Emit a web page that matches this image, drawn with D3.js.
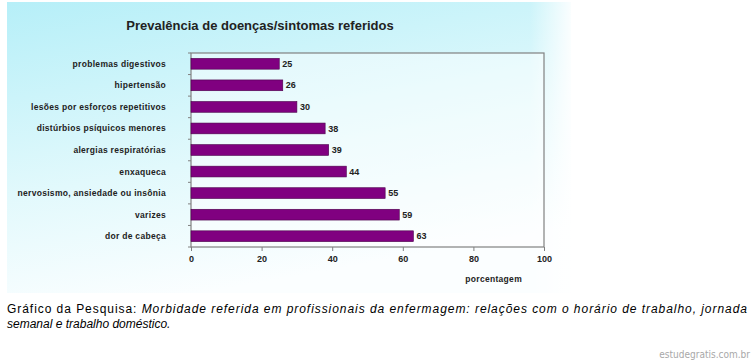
<!DOCTYPE html>
<html>
<head>
<meta charset="utf-8">
<script src="https://cdn.jsdelivr.net/npm/d3@7"></script>
<style>
  body { margin: 0; background: #fff; }
  svg { display: block; }
</style>
</head>
<body>
<svg id="chart" width="755" height="364"></svg>
<script>
const categories = [
  "problemas digestivos",
  "hipertensão",
  "lesões por esforços repetitivos",
  "distúrbios psíquicos menores",
  "alergias respiratórias",
  "enxaqueca",
  "nervosismo, ansiedade ou insônia",
  "varizes",
  "dor de cabeça"
];
const values = [25, 26, 30, 38, 39, 44, 55, 59, 63];
const xTicks = [0, 20, 40, 60, 80, 100];

const barColor = "#800080";
const margins = { top: 53, left: 191, right: 211, bottom: 117 };
const width = 755 - margins.left - margins.right;
const height = 364 - margins.top - margins.bottom;

const svg = d3.select("#chart");

// background gradient of the picture
const defs = svg.append("defs");
const grad = defs.append("linearGradient")
  .attr("id", "bg")
  .attr("x1", 0).attr("y1", 0).attr("x2", 0.35).attr("y2", 1);
grad.append("stop").attr("offset", 0).attr("stop-color", "#b6eff8");
grad.append("stop").attr("offset", 0.6).attr("stop-color", "#e2f9fc");
grad.append("stop").attr("offset", 1).attr("stop-color", "#fbfeff");

const gradR = defs.append("linearGradient")
  .attr("id", "fadeR")
  .attr("x1", 0).attr("y1", 0).attr("x2", 1).attr("y2", 0);
gradR.append("stop").attr("offset", 0).attr("stop-color", "#fff").attr("stop-opacity", 0);
gradR.append("stop").attr("offset", 1).attr("stop-color", "#fff").attr("stop-opacity", 0.9);

svg.append("rect")
  .attr("x", 7).attr("y", 2).attr("width", 564).attr("height", 291)
  .attr("fill", "url(#bg)");
svg.append("rect")
  .attr("x", 530).attr("y", 2).attr("width", 41).attr("height", 291)
  .attr("fill", "url(#fadeR)");

// title
svg.append("text")
  .attr("x", 260).attr("y", 30)
  .attr("text-anchor", "middle")
  .attr("font-family", "Liberation Sans, Arial, sans-serif")
  .attr("font-weight", "bold")
  .attr("font-size", 13)
  .attr("fill", "#222")
  .text("Prevalência de doenças/sintomas referidos");

const g = svg.append("g")
  .attr("transform", `translate(${margins.left},${margins.top})`);

const x = d3.scaleLinear().domain([0, 100]).range([0, width]);
const y = d3.scaleBand().domain(categories).range([0, height]).paddingInner(0.5).paddingOuter(0.25);

// plot area
g.append("rect")
  .attr("width", width).attr("height", height)
  .attr("fill", "#fff").attr("fill-opacity", 0.45)
  .attr("stroke", "#808080").attr("stroke-width", 1.2);

// bars
g.selectAll("rect.bar")
  .data(values)
  .join("rect")
  .attr("class", "bar")
  .attr("x", x(0))
  .attr("y", (d, i) => y(categories[i]))
  .attr("width", d => x(d) - x(0))
  .attr("height", y.bandwidth())
  .attr("fill", barColor)
  .attr("stroke", "#4a004a")
  .attr("stroke-width", 0.6);

// value labels
g.selectAll("text.val")
  .data(values)
  .join("text")
  .attr("class", "val")
  .attr("x", d => x(d) + 3)
  .attr("y", (d, i) => y(categories[i]) + y.bandwidth() / 2)
  .attr("dy", "0.35em")
  .attr("font-family", "Liberation Sans, Arial, sans-serif")
  .attr("font-weight", "bold")
  .attr("font-size", 9)
  .attr("fill", "#222")
  .text(d => d);

// y axis: labels and ticks between categories
const yAxis = g.append("g");
yAxis.selectAll("text")
  .data(categories)
  .join("text")
  .attr("x", -25)
  .attr("y", d => y(d) + y.bandwidth() / 2)
  .attr("dy", "0.35em")
  .attr("text-anchor", "end")
  .attr("font-family", "Liberation Sans, Arial, sans-serif")
  .attr("font-weight", "bold")
  .attr("font-size", 8.5)
  .attr("letter-spacing", 0.3)
  .attr("fill", "#222")
  .text(d => d);
yAxis.selectAll("line")
  .data(d3.range(categories.length + 1))
  .join("line")
  .attr("x1", -3).attr("x2", 0)
  .attr("y1", i => i * height / categories.length)
  .attr("y2", i => i * height / categories.length)
  .attr("stroke", "#808080");

// x axis
const xAxis = g.append("g")
  .attr("transform", `translate(0,${height})`)
  .call(d3.axisBottom(x).tickValues(xTicks).tickSize(4).tickPadding(5));
xAxis.select(".domain").remove();
xAxis.selectAll("line").attr("stroke", "#808080");
xAxis.selectAll("text")
  .attr("font-family", "Liberation Sans, Arial, sans-serif")
  .attr("font-weight", "bold")
  .attr("font-size", 9)
  .attr("fill", "#222");

g.append("text")
  .attr("x", width - 22).attr("y", height + 35)
  .attr("text-anchor", "end")
  .attr("font-family", "Liberation Sans, Arial, sans-serif")
  .attr("font-weight", "bold")
  .attr("font-size", 8.5)
  .attr("letter-spacing", 0.3)
  .attr("fill", "#222")
  .text("porcentagem");

// caption below the picture
const cap1 = svg.append("text")
  .attr("x", 7).attr("y", 313)
  .attr("font-family", "Liberation Sans, Arial, sans-serif")
  .attr("font-size", 12)
  .attr("fill", "#000")
  .attr("textLength", 740)
  .attr("lengthAdjust", "spacing");
cap1.append("tspan").text("Gráfico da Pesquisa: ");
cap1.append("tspan").attr("font-style", "italic")
  .text("Morbidade referida em profissionais da enfermagem: relações com o horário de trabalho, jornada");

svg.append("text")
  .attr("x", 7).attr("y", 328)
  .attr("font-family", "Liberation Sans, Arial, sans-serif")
  .attr("font-size", 12)
  .attr("font-style", "italic")
  .attr("fill", "#000")
  .text("semanal e trabalho doméstico.");

svg.append("text")
  .attr("x", 750).attr("y", 358)
  .attr("text-anchor", "end")
  .attr("font-family", "DejaVu Sans Condensed, DejaVu Sans, sans-serif")
  .attr("font-stretch", "condensed")
  .attr("font-size", 10)
  .attr("fill", "#a8a8a8")
  .text("estudegratis.com.br");
</script>
</body>
</html>
